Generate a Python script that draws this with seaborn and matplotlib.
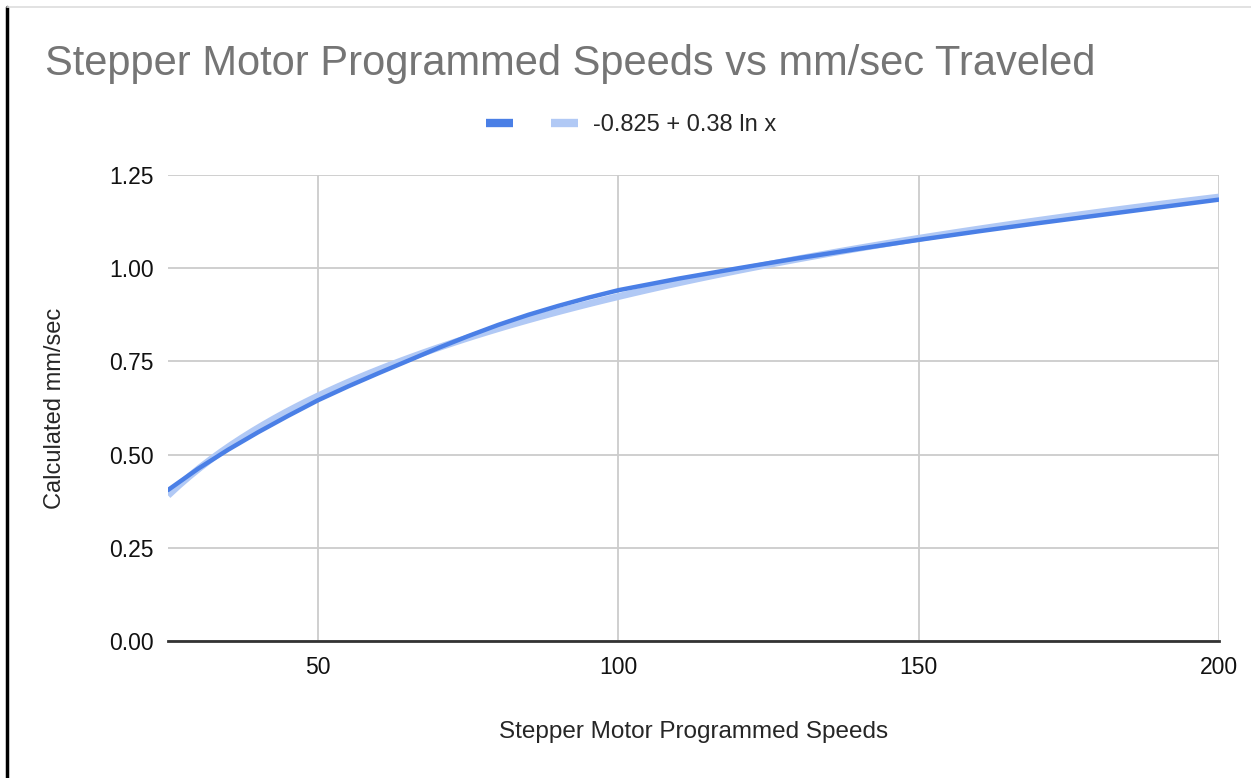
import numpy as np
import pandas as pd
import matplotlib
matplotlib.use('Agg')
import matplotlib.pyplot as plt
import seaborn as sns
from matplotlib.lines import Line2D

speeds = [25, 30, 35, 40, 45, 50, 55, 60, 65, 70, 75, 80, 85, 90, 95, 100,
          110, 120, 130, 140, 150, 160, 170, 180, 190, 200]
mm_per_sec = [0.405, 0.462, 0.513, 0.560, 0.604, 0.646, 0.683, 0.718, 0.752, 0.786,
              0.818, 0.848, 0.875, 0.899, 0.921, 0.941,
              0.972, 1.000, 1.027, 1.052, 1.076, 1.099, 1.121, 1.142, 1.163, 1.184]
x_ticks = [50, 100, 150, 200]
y_ticks = [0.00, 0.25, 0.50, 0.75, 1.00, 1.25]
trend_label = '-0.825 + 0.38 ln x'

df = pd.DataFrame({'speed': speeds, 'mm_sec': mm_per_sec})

sns.set_style('white')
plt.rcParams['font.family'] = ['Liberation Sans', 'DejaVu Sans']

dark_blue = '#4a7fe6'
light_blue = '#b1c9f5'

fig = plt.figure(figsize=(12.51, 7.78), dpi=100)
ax = fig.add_axes([168/1251, 1 - 641/778, (1219-168)/1251, (641-175)/778])

# log trendline fitted from the same data
sns.regplot(data=df, x='speed', y='mm_sec', logx=True, ci=None, scatter=False,
            ax=ax, line_kws={'color': light_blue, 'lw': 5, 'solid_capstyle': 'butt', 'zorder': 3})
sns.lineplot(data=df, x='speed', y='mm_sec', ax=ax, color=dark_blue, lw=3.2, zorder=4)

ax.set_xlim(25, 200)
ax.set_ylim(0, 1.25)
ax.set_xticks(x_ticks)
ax.set_yticks(y_ticks)
ax.set_yticklabels([f'{v:.2f}' for v in y_ticks])
ax.grid(True, color='#cccccc', lw=1.3)
ax.set_axisbelow(True)
for s in ['left', 'top', 'right']:
    ax.spines[s].set_visible(False)
ax.spines['bottom'].set_color('#333333')
ax.spines['bottom'].set_linewidth(2)
ax.spines['bottom'].set_zorder(5)
ax.tick_params(axis='both', length=0, labelsize=16.5, colors='#111111')
ax.tick_params(axis='x', pad=11)
ax.tick_params(axis='y', pad=10)

ax.set_xlabel('Stepper Motor Programmed Speeds', fontsize=17.5, labelpad=30)
ax.set_ylabel('Calculated mm/sec', fontsize=17, labelpad=31)

fig.text(45/1251, 1 - 64/778, 'Stepper Motor Programmed Speeds vs mm/sec Traveled',
         fontsize=30, color='#757575', ha='left', va='center')

handles = [Line2D([], [], color=dark_blue, lw=6, solid_capstyle='butt'),
           Line2D([], [], color=light_blue, lw=6, solid_capstyle='butt')]
fig.legend(handles, ['', trend_label], loc='center', bbox_to_anchor=(631/1251, 1 - 125/778),
           ncol=2, frameon=False, fontsize=17, handlelength=1.15, columnspacing=1.0,
           handletextpad=0.6)

# screenshot frame edges
fig.add_artist(Line2D([7/1251, 7/1251], [0, 1 - 7/778], color='black', lw=2.5,
                      transform=fig.transFigure))
fig.add_artist(Line2D([7/1251, 1], [1 - 7/778, 1 - 7/778], color='#dddddd', lw=1.2,
                      transform=fig.transFigure))

fig.savefig('out.png', dpi=100)
